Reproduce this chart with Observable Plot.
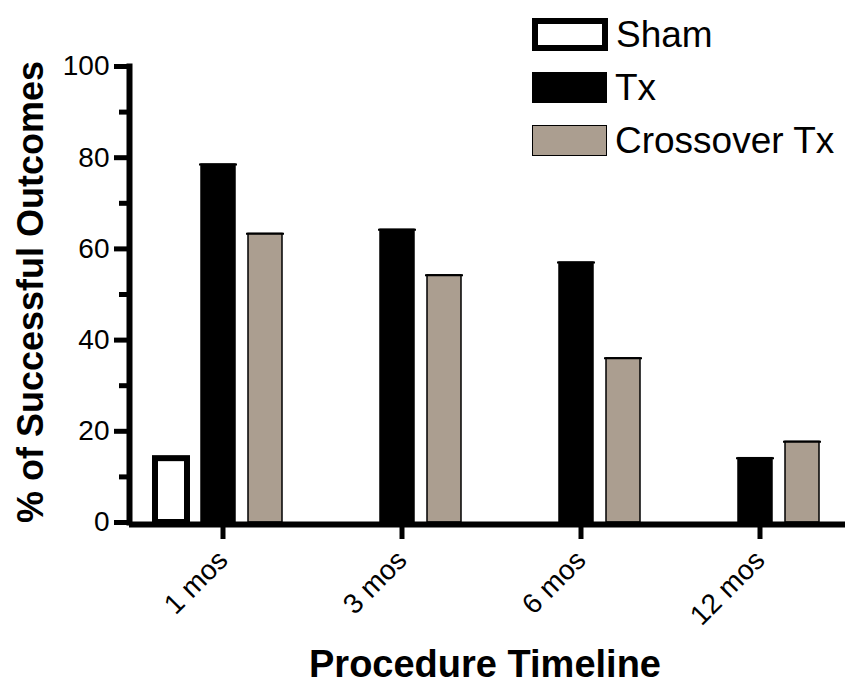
<!DOCTYPE html>
<html><head><meta charset="utf-8">
<script src="https://cdn.jsdelivr.net/npm/d3@7"></script>
<script src="https://cdn.jsdelivr.net/npm/@observablehq/plot@0.6"></script>
<style>
body{margin:0;background:#fff;font-family:"Liberation Sans",Arial,sans-serif;color:#000;}
#wrap{position:relative;width:867px;height:693px;overflow:hidden;}
#wrap svg{position:absolute;left:0;top:0;}
.ytitle{position:absolute;left:31px;top:292px;transform:translate(-50%,-50%) rotate(-90deg);font-weight:bold;font-size:36px;white-space:nowrap;line-height:1;}
.xtitle{position:absolute;left:485px;top:664px;transform:translate(-50%,-50%);font-weight:bold;font-size:38px;white-space:nowrap;line-height:1;}
.legend{position:absolute;left:532px;top:8px;}
.legend .item{display:flex;align-items:center;height:53px;font-size:37px;line-height:1;}
.legend .sw{box-sizing:border-box;width:75px;height:31px;margin-right:8px;}
</style></head><body>
<div id="wrap"></div>
<script>
const timepoints = ["1 mos", "3 mos", "6 mos", "12 mos"];
const groups = ["Sham", "Tx", "Crossover Tx"];
const shamValues = [14.0, null, null, null];
const txValues = [78.5, 64.2, 57.0, 14.1];
const crossoverValues = [63.3, 54.2, 36.0, 17.7];
const yTicks = [0, 20, 40, 60, 80, 100];
const yMinorTicks = [10, 30, 50, 70, 90];
const groupColors = ["#ffffff", "#000000", "#ab9e90"];
const yTitle = "% of Successful Outcomes";
const xTitle = "Procedure Timeline";

const seriesValues = [shamValues, txValues, crossoverValues];
const rows = [];
groups.forEach((g, gi) => {
  timepoints.forEach((t, ti) => {
    const v = seriesValues[gi][ti];
    if (v != null) rows.push({time: t, group: g, value: v});
  });
});
const shamRows = rows.filter(d => d.group === "Sham");
const otherRows = rows.filter(d => d.group !== "Sham");

const font = '"Liberation Sans", Arial, sans-serif';
const chart = Plot.plot({
  width: 867, height: 693,
  marginLeft: 129, marginRight: 22, marginTop: 66, marginBottom: 171,
  style: {fontFamily: font, color: "#000", background: "transparent", overflow: "visible"},
  fx: {domain: timepoints, padding: 0, label: null},
  x: {domain: groups, paddingInner: 0.27, paddingOuter: 0.5, axis: null},
  y: {domain: [0, 100], axis: null},
  color: {domain: groups, range: groupColors},
  marks: [
    Plot.barY(shamRows, {fx: "time", x: "group", y: "value", fill: "white", stroke: "black", strokeWidth: 6, insetLeft: 1, insetRight: 1}),
    Plot.barY(otherRows, {fx: "time", x: "group", y: "value", fill: "group", stroke: "black", strokeWidth: 1.5}),
    Plot.tickY(otherRows, {fx: "time", x: "group", y: "value", stroke: "black", strokeWidth: 2, insetLeft: -2, insetRight: -2}),
    Plot.ruleY([0], {strokeWidth: 6, dy: 2}),
    Plot.frame({anchor: "left", strokeWidth: 6, facetAnchor: "left"}),
    Plot.axisY({ticks: yTicks, tickSize: 15, strokeWidth: 5, tickPadding: 5, fontSize: 28, label: null}),
    Plot.axisY({ticks: yMinorTicks, tickSize: 10, strokeWidth: 5, text: null, label: null}),
    Plot.axisFx({anchor: "bottom", tickSize: 17, strokeWidth: 5, tickRotate: -45, fontSize: 28, tickPadding: 16, dx: 4, label: null})
  ]
});
const wrap = document.getElementById("wrap");
wrap.appendChild(chart);

const yt = document.createElement("div"); yt.className = "ytitle"; yt.textContent = yTitle; wrap.appendChild(yt);
const xt = document.createElement("div"); xt.className = "xtitle"; xt.textContent = xTitle; wrap.appendChild(xt);

const legend = document.createElement("div"); legend.className = "legend";
groups.forEach((g, i) => {
  const item = document.createElement("div"); item.className = "item";
  const sw = document.createElement("div"); sw.className = "sw";
  sw.style.background = groupColors[i];
  sw.style.border = i === 0 ? "6px solid #000" : "1.5px solid #000";
  if (i === 0) { sw.style.width = "76px"; sw.style.height = "33px"; }
  const label = document.createElement("span"); label.textContent = g;
  item.appendChild(sw); item.appendChild(label);
  legend.appendChild(item);
});
wrap.appendChild(legend);
</script>
</body></html>
